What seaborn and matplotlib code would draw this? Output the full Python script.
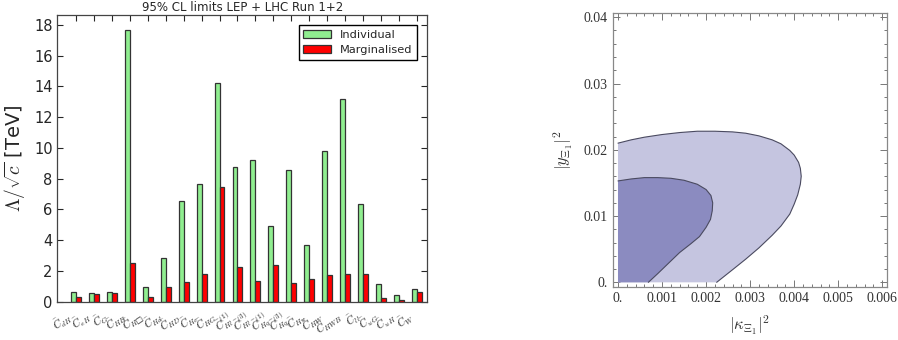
import numpy as np
import pandas as pd
import matplotlib.pyplot as plt
import seaborn as sns
from matplotlib.ticker import MultipleLocator, FixedLocator, FixedFormatter

#-- Data:

coefs = [r'$\bar{C}_{dH}$', r'$\bar{C}_{eH}$', r'$\bar{C}_{G}$', r'$\bar{C}_{HB}$',
         '$\\bar{C}_{H\u25a1}$', r'$\bar{C}_{Hd}$', r'$\bar{C}_{HD}$', r'$\bar{C}_{He}$',
         r'$\bar{C}_{HG}$', r'$\bar{C}_{Hl}^{(1)}$', r'$\bar{C}_{Hl}^{(3)}$', r'$\bar{C}_{Hq}^{(1)}$',
         r'$\bar{C}_{Hq}^{(3)}$', r'$\bar{C}_{Hu}$', r'$\bar{C}_{HW}$', r'$\bar{C}_{HWB}$',
         r'$\bar{C}_{ll}$', r'$\bar{C}_{uG}$', r'$\bar{C}_{uH}$', r'$\bar{C}_{W}$']
individual = [0.65, 0.55, 0.62, 17.65, 0.92, 2.82, 6.52, 7.62, 14.2, 8.75,
              9.2, 4.9, 8.55, 3.65, 9.8, 13.15, 6.35, 1.15, 0.4, 0.8]
marginalised = [0.3, 0.48, 0.55, 2.5, 0.28, 0.95, 1.25, 1.8, 7.45, 2.25,
                1.32, 2.38, 1.2, 1.45, 1.75, 1.8, 1.8, 0.22, 0.08, 0.62]

# allowed regions, boundary curve then the origin corner
outer_x = [0, 0.0003, 0.0006, 0.0010, 0.0014, 0.0018, 0.0022, 0.0026, 0.0029, 0.0032,
           0.0035, 0.0037, 0.0039, 0.0040, 0.0041, 0.00414, 0.00416, 0.00414, 0.00408,
           0.0040, 0.0039, 0.0037, 0.0035, 0.0032, 0.0029, 0.0026, 0.00224, 0]
outer_y = [0.0210, 0.0215, 0.0219, 0.0223, 0.0226, 0.0228, 0.0228, 0.0227, 0.0225, 0.0221,
           0.0215, 0.0209, 0.0199, 0.0192, 0.0181, 0.0172, 0.0160, 0.0148, 0.0132,
           0.0118, 0.0103, 0.0085, 0.0071, 0.0052, 0.0035, 0.0019, 0.0, 0]
inner_x = [0, 0.0003, 0.0006, 0.0009, 0.0012, 0.0015, 0.0018, 0.0020, 0.00211, 0.00215,
           0.00214, 0.00210, 0.0020, 0.00185, 0.00165, 0.0014, 0.00115, 0.0009, 0.00069, 0]
inner_y = [0.0153, 0.0156, 0.0158, 0.0158, 0.0157, 0.0154, 0.0148, 0.0140, 0.0131, 0.0120,
           0.0108, 0.0095, 0.0083, 0.0069, 0.0058, 0.0045, 0.0029, 0.0013, 0.0, 0]

x_ticks = [0, 0.001, 0.002, 0.003, 0.004, 0.005, 0.006]
x_tick_labels = ['0.', '0.001', '0.002', '0.003', '0.004', '0.005', '0.006']
y_ticks = [0, 0.01, 0.02, 0.03, 0.04]
y_tick_labels = ['0.', '0.01', '0.02', '0.03', '0.04']

#-- Style:

sns.set_style('ticks')
plt.rcParams['font.family'] = ['DejaVu Sans']
plt.rcParams['mathtext.fontset'] = 'cm'

fig = plt.figure(figsize=(8.98, 3.4), dpi=100)

#- Bar chart:

ax1 = fig.add_axes([0.064, 0.113, 0.4115, 0.843])
df = pd.DataFrame({
    'coef': coefs * 2,
    'limit': individual + marginalised,
    'type': ['Individual'] * len(coefs) + ['Marginalised'] * len(coefs),
})
sns.barplot(data=df, x='coef', y='limit', hue='type',
            palette={'Individual': '#90ee90', 'Marginalised': '#ff0000'},
            saturation=1, width=0.55, edgecolor='#333333', linewidth=0.9,
            errorbar=None, ax=ax1)

ax1.set_xlim(-1.03, 19.56)
ax1.set_ylim(0, 18.65)
ax1.set_yticks(range(0, 19, 2))
ax1.set_xlabel('')
ax1.set_ylabel(r'$\Lambda/\sqrt{c}$ [TeV]', fontsize=14)
ax1.set_title('95% CL limits LEP + LHC Run 1+2', fontsize=8.5, pad=3)
ax1.tick_params(direction='in', top=True, right=True, length=4, width=0.8, labelsize=10.5)
ax1.tick_params(axis='x', labelsize=7.5, pad=5)
for lab in ax1.get_xticklabels():
    lab.set_rotation(35)
    lab.set_ha('right')
for s in ax1.spines.values():
    s.set_color('#444444')
    s.set_linewidth(0.9)
ax1.legend(loc='upper right', fontsize=8.2, frameon=True, fancybox=False,
           edgecolor='black', framealpha=1, borderaxespad=0.9, handlelength=2.4)

#- Allowed region plot:

ax2 = fig.add_axes([0.6823, 0.155, 0.3051, 0.806])
ax2.fill(outer_x, outer_y, color='#c5c5e0', lw=0)
ax2.fill(inner_x, inner_y, color='#8b8bc0', lw=0)
sns.lineplot(x=outer_x[:-1], y=outer_y[:-1], sort=False, estimator=None,
             color='#4a4a60', lw=0.8, ax=ax2)
sns.lineplot(x=inner_x[:-1], y=inner_y[:-1], sort=False, estimator=None,
             color='#4a4a60', lw=0.8, ax=ax2)

ax2.set_xlim(-0.00012, 0.0061)
ax2.set_ylim(-0.00075, 0.0406)
ax2.xaxis.set_major_locator(FixedLocator(x_ticks))
ax2.xaxis.set_major_formatter(FixedFormatter(x_tick_labels))
ax2.yaxis.set_major_locator(FixedLocator(y_ticks))
ax2.yaxis.set_major_formatter(FixedFormatter(y_tick_labels))
ax2.xaxis.set_minor_locator(MultipleLocator(0.0002))
ax2.yaxis.set_minor_locator(MultipleLocator(0.002))
ax2.tick_params(which='both', direction='in', top=True, right=True, color='#777777',
                labelcolor='#333333', width=0.7)
ax2.tick_params(which='major', length=5)
ax2.tick_params(which='minor', length=2.5)
for lab in ax2.get_xticklabels() + ax2.get_yticklabels():
    lab.set_family('Liberation Serif')
    lab.set_fontsize(10)
for s in ax2.spines.values():
    s.set_color('#888888')
    s.set_linewidth(0.9)
ax2.set_xlabel(r'$|\kappa_{\Xi_1}|^2$', fontsize=12, labelpad=6, color='#333333')
ax2.set_ylabel(r'$|y_{\Xi_1}|^2$', fontsize=12, labelpad=6, color='#333333')

fig.savefig('out.png', dpi=100)
